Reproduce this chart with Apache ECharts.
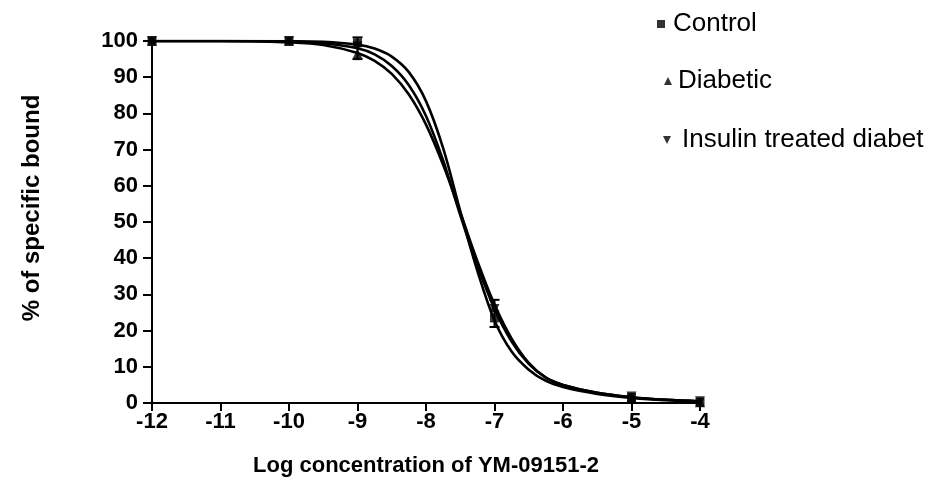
<!DOCTYPE html>
<html>
<head>
<meta charset="utf-8">
<script src="https://cdn.jsdelivr.net/npm/echarts@6/dist/echarts.min.js"></script>
<style>html,body{margin:0;padding:0;background:#fff}#c{width:939px;height:489px}</style>
</head>
<body>
<div id="c"></div>
<script>
// ---- data ----
const xTicks = [-12, -11, -10, -9, -8, -7, -6, -5, -4];
const yTicks = [0, 10, 20, 30, 40, 50, 60, 70, 80, 90, 100];
const seriesNames = ['Control', 'Diabetic', 'Insulin treated diabet'];

// measured points (log concentration, % specific bound)
const pointX = [-12, -10, -9, -7, -5, -4];
const controlPts = [100, 100, 99.5, 23.5, 1.5, 0.2];
const diabeticPts = [100, 100, 96.5, 26.5, 1.5, 0.2];
const insulinPts = [100, 100, 98.5, 26, 1.8, 0.5];

// fitted curves
const curveX = [-12, -11, -10, -9.5, -9, -8.75, -8.5, -8.25, -8, -7.75, -7.5, -7.25, -7, -6.75, -6.5, -6.25, -6, -5.5, -5, -4.5, -4];
const controlCurve = [100, 100, 99.95, 99.8, 99.0, 97.9, 95.7, 91.4, 83.4, 70.4, 53, 36.5, 22.8, 14.2, 9.2, 6.1, 4.4, 2.5, 1.4, 0.8, 0.4];
const diabeticCurve = [100, 100, 99.6, 98.9, 96.7, 94.5, 90.9, 85.2, 76.9, 65.8, 52.7, 39.2, 27.2, 17.8, 11.1, 7.0, 5.0, 2.8, 1.6, 0.9, 0.5];
const insulinCurve = [100, 100, 99.8, 99.4, 98.0, 96.3, 93.1, 87.8, 79.3, 67.0, 51.9, 38, 26, 17, 10.8, 7.0, 5.0, 2.8, 1.6, 0.9, 0.5];

// error bars
const errX = [-9, -7];
const errLow = [95, 21];
const errHigh = [101, 28.5];

const xTitle = 'Log concentration of YM-09151-2';
const yTitle = '% of specific bound';

// ---- chart ----
const pair = (xs, ys) => xs.map((x, i) => [x, ys[i]]);
const symbols = ['rect', 'triangle', 'triangle'];
const rotations = [0, 0, 180];
const pts = [controlPts, diabeticPts, insulinPts];
const curves = [controlCurve, diabeticCurve, insulinCurve];

const series = [];
curves.forEach((c, i) => {
  series.push({
    type: 'line', name: seriesNames[i] + ' fit', data: pair(curveX, c),
    smooth: 0.35, symbol: 'none', silent: true,
    lineStyle: { color: '#000', width: 2.6 }, z: 2
  });
});
series.push({
  type: 'custom', name: 'err', silent: true, z: 3,
  data: errX.map((x, i) => [x, errLow[i], errHigh[i]]),
  renderItem: function (params, api) {
    const lo = api.coord([api.value(0), api.value(1)]);
    const hi = api.coord([api.value(0), api.value(2)]);
    const w = 5;
    return {
      type: 'group', children: [
        { type: 'line', shape: { x1: lo[0], y1: lo[1], x2: hi[0], y2: hi[1] }, style: { stroke: '#000', lineWidth: 2 } },
        { type: 'line', shape: { x1: hi[0] - w, y1: hi[1], x2: hi[0] + w, y2: hi[1] }, style: { stroke: '#000', lineWidth: 2 } },
        { type: 'line', shape: { x1: lo[0] - w, y1: lo[1], x2: lo[0] + w, y2: lo[1] }, style: { stroke: '#000', lineWidth: 2 } }
      ]
    };
  }
});
pts.forEach((p, i) => {
  series.push({
    type: 'scatter', name: seriesNames[i], data: pair(pointX, p),
    symbol: symbols[i], symbolSize: i === 0 ? 9 : 10, symbolRotate: rotations[i],
    itemStyle: { color: '#000' }, z: 4
  });
});

const legendBase = {
  orient: 'vertical', itemWidth: 8, itemHeight: 8, selectedMode: false,
  textStyle: { fontFamily: 'Liberation Sans', fontSize: 26, color: '#000' }
};
const chart = echarts.init(document.getElementById('c'), null, { renderer: 'canvas' });
chart.setOption({
  animation: false,
  backgroundColor: '#fff',
  grid: { left: 152, right: 239, top: 41, bottom: 86, containLabel: false },
  legend: [
    Object.assign({}, legendBase, { data: [{ name: seriesNames[0], icon: 'rect' }], left: 652, top: 6, textStyle: Object.assign({}, legendBase.textStyle, { padding: [0, 0, 0, 3] }) }),
    Object.assign({}, legendBase, { data: [{ name: seriesNames[1], icon: 'triangle' }], left: 659, top: 63, textStyle: Object.assign({}, legendBase.textStyle, { padding: [0, 0, 0, 1] }) }),
    Object.assign({}, legendBase, { data: [{ name: seriesNames[2], icon: 'path://M0,0L10,0L5,10Z' }], left: 658, top: 122, textStyle: Object.assign({}, legendBase.textStyle, { padding: [0, 0, 0, 6] }) })
  ],
  xAxis: {
    type: 'value', min: xTicks[0], max: xTicks[xTicks.length - 1], interval: 1,
    name: xTitle, nameLocation: 'middle', nameGap: 52,
    nameTextStyle: { fontFamily: 'Liberation Sans', fontSize: 22, fontWeight: 'bold', color: '#000' },
    axisLine: { onZero: false, lineStyle: { color: '#000', width: 2 } },
    axisTick: { show: true, length: 8, lineStyle: { color: '#000', width: 2 } },
    axisLabel: { fontFamily: 'Liberation Sans', fontSize: 22, fontWeight: 'bold', color: '#000', margin: 8,
      formatter: v => xTicks.includes(v) ? String(v) : '' },
    splitLine: { show: false }
  },
  yAxis: {
    type: 'value', min: yTicks[0], max: yTicks[yTicks.length - 1], interval: 10,
    name: yTitle, nameLocation: 'middle', nameGap: 108, nameRotate: 90,
    nameTextStyle: { fontFamily: 'Liberation Sans', fontSize: 24, fontWeight: 'bold', color: '#000', padding: [0, 0, 0, 28] },
    axisLine: { lineStyle: { color: '#000', width: 2 } },
    axisTick: { show: true, length: 9, lineStyle: { color: '#000', width: 2 } },
    axisLabel: { fontFamily: 'Liberation Sans', fontSize: 22, fontWeight: 'bold', color: '#000', margin: 14,
      formatter: v => yTicks.includes(v) ? String(v) : '' },
    splitLine: { show: false }
  },
  series: series
});
</script>
</body>
</html>
